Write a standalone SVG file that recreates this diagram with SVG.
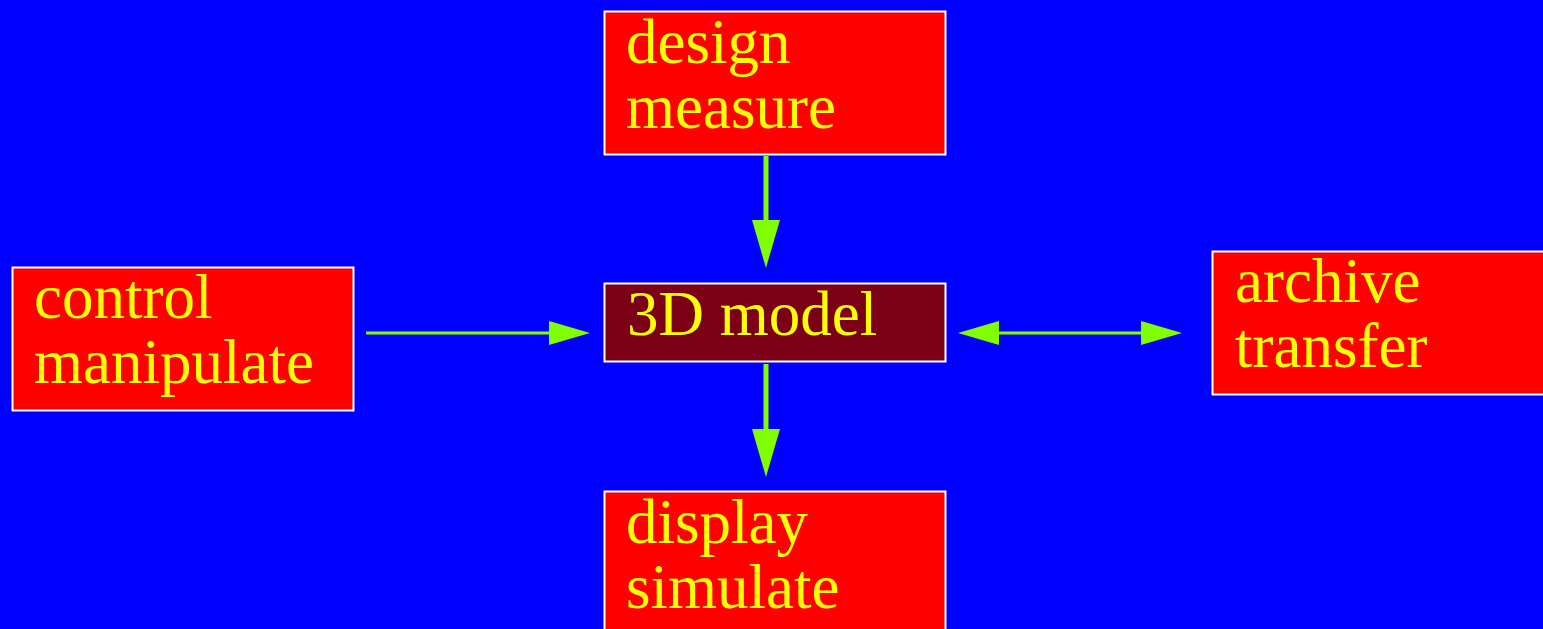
<svg xmlns="http://www.w3.org/2000/svg" width="1543" height="629" viewBox="0 0 1543 629">
  <style>
    .box { fill: #ff0000; stroke: #ffffff; stroke-width: 2; }
    .core { fill: #7b0016; stroke: #ffffff; stroke-width: 2; }
    .lbl { fill: #ffff00; font-family: "Liberation Serif", "Times New Roman", serif; font-size: 63px; }
    .vlink { stroke: #7fff00; stroke-width: 5; fill: none; }
    .hlink { stroke: #7fff00; stroke-width: 3; fill: none; }
  </style>
  <defs>
    <!-- heads are anchored at their base so the shaft stops under the head -->
    <marker id="headV" markerUnits="userSpaceOnUse" viewBox="-1 0 48 28" markerWidth="48" markerHeight="28" refX="0" refY="14" orient="auto">
      <path d="M-1,0 L47,14 L-1,28 Z" fill="#7fff00"/>
    </marker>
    <marker id="headH" markerUnits="userSpaceOnUse" viewBox="-1 0 41 24" markerWidth="41" markerHeight="24" refX="0" refY="12" orient="auto-start-reverse">
      <path d="M-1,0 L40,12 L-1,24 Z" fill="#7fff00"/>
    </marker>
  </defs>

  <rect x="0" y="0" width="1543" height="629" fill="#0000ff"/>

  <g id="connectors">
    <line class="vlink" x1="766" y1="156" x2="766" y2="221" marker-end="url(#headV)"/>
    <line class="vlink" x1="766" y1="364" x2="766" y2="430" marker-end="url(#headV)"/>
    <line class="hlink" x1="366" y1="333" x2="550" y2="333" marker-end="url(#headH)"/>
    <line class="hlink" x1="998" y1="333" x2="1142" y2="333" marker-start="url(#headH)" marker-end="url(#headH)"/>
  </g>

  <g id="design">
    <rect class="box" x="604.5" y="11.5" width="341" height="143"/>
    <text class="lbl" x="626" y="63">design</text>
    <text class="lbl" x="626" y="128">measure</text>
  </g>

  <g id="model">
    <rect class="core" x="604.5" y="283.5" width="341" height="78"/>
    <text class="lbl" x="627" y="335">3D model</text>
  </g>

  <g id="control">
    <rect class="box" x="12.5" y="267.5" width="341" height="143"/>
    <text class="lbl" x="34" y="318">control</text>
    <text class="lbl" x="34" y="383">manipulate</text>
  </g>

  <g id="archive">
    <rect class="box" x="1212.5" y="251.5" width="341" height="143"/>
    <text class="lbl" x="1235" y="302">archive</text>
    <text class="lbl" x="1235" y="367">transfer</text>
  </g>

  <g id="display">
    <rect class="box" x="604.5" y="491.5" width="341" height="143"/>
    <text class="lbl" x="626" y="543">display</text>
    <text class="lbl" x="626" y="608">simulate</text>
  </g>
</svg>
